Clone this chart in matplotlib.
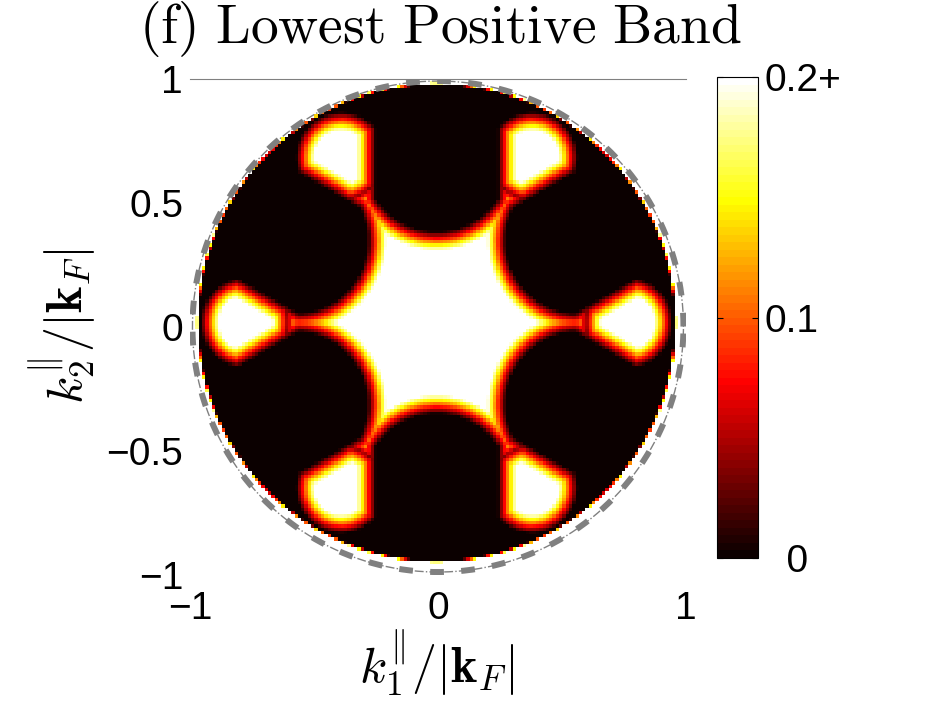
import numpy as np
import matplotlib.pyplot as plt

plt.rcParams['mathtext.fontset'] = 'cm'
plt.rcParams['font.family'] = ['Liberation Sans', 'DejaVu Sans']

# ---- geometry (units of |k_F|) ----
pocket_angles = [30, 90, 150, 210, 270, 330]   # dark (zero) pockets
pocket_dist = 0.661      # centre of each pocket's rounded inner edge
pocket_radius = 0.331
pocket_halfwidth = 0.283 # straight flanks of the pockets
lobe_angles = [0, 60, 120, 180, 240, 300]      # bright outer lobes
lobe_dist = 0.77
lobe_radius = 0.145
center_radius = 0.58     # extent of the central bright star
rim_start = 0.959        # speckled bright cells on the data edge
data_radius = 0.967
data_offset = (-0.005, 0.016)
fringe = 0.038           # half width of the red/yellow fringe
vmax = 0.2
n_grid = 150

cbar_ticks = [0, 0.1, 0.2]
cbar_labels = ['  0', '0.1', '0.2+']
x_ticks = [-1, 0, 1]
x_labels = ['\u22121', '0', '1']
y_ticks = [-1, -0.5, 0, 0.5, 1]
y_labels = ['\u22121', '\u22120.5', '0', '0.5', '1']

# ---- build the gridded band value ----
edges = np.linspace(-1, 1, n_grid + 1)
mid = 0.5 * (edges[:-1] + edges[1:])
X, Y = np.meshgrid(mid, mid)
R = np.hypot(X, Y)

d_pockets = np.full_like(X, np.inf)
for a in np.deg2rad(pocket_angles):
    along = X * np.cos(a) + Y * np.sin(a)
    perp = -X * np.sin(a) + Y * np.cos(a)
    d_disk = np.hypot(along - pocket_dist, perp) - pocket_radius
    d_slab = np.abs(perp) - pocket_halfwidth
    d_pockets = np.minimum(d_pockets, np.maximum(d_disk, d_slab))

d_lobes = np.full_like(X, -np.inf)
for a in np.deg2rad(lobe_angles):
    lx, ly = lobe_dist * np.cos(a), lobe_dist * np.sin(a)
    d_lobes = np.maximum(d_lobes, lobe_radius - np.hypot(X - lx, Y - ly))

d_allowed = np.maximum(center_radius - R, d_lobes)
d = np.minimum(d_pockets, d_allowed)
Z = 0.5 * vmax * (1 + np.clip(d / fringe, -1, 1))
Z = np.maximum(Z, 0.9 * vmax * np.clip((R - rim_start) / 0.008, 0, 1))
Z[R > data_radius] = np.nan

# ---- figure ----
fig = plt.figure(figsize=(9.34, 7.03), dpi=100)
ax = fig.add_axes([0.2034, 0.182, 0.531, 0.707])
mesh = ax.pcolormesh(edges + data_offset[0], edges + data_offset[1], Z,
                     cmap=plt.get_cmap('hot', 64), vmin=0, vmax=vmax,
                     shading='flat')

t = np.linspace(0, 2 * np.pi, 400)
ax.plot(0.99 * np.cos(t), 0.99 * np.sin(t), color='0.5', lw=1.0, ls='-.')
ax.plot(0.99 * np.cos(t), 0.99 * np.sin(t), color='0.5', lw=4.3,
        ls=(0, (2.3, 2.9)))

ax.set_xlim(-1, 1)
ax.set_ylim(-1, 1)
ax.set_aspect('equal')
ax.set_xticks(x_ticks)
ax.set_xticklabels(x_labels)
ax.set_yticks(y_ticks)
ax.set_yticklabels(y_labels)
ax.tick_params(length=0, labelsize=28)
ax.tick_params(axis='x', pad=12)
ax.tick_params(axis='y', pad=5)
for s in ['left', 'right', 'bottom']:
    ax.spines[s].set_visible(False)
ax.spines['top'].set_color('0.5')
ax.spines['top'].set_linewidth(0.8)

cax = fig.add_axes([0.7677, 0.2063, 0.0439, 0.684])
cb = fig.colorbar(mesh, cax=cax, ticks=cbar_ticks)
cb.ax.set_yticklabels(cbar_labels)
cb.ax.tick_params(labelsize=28, direction='in', length=4, left=True, right=True, pad=5)
cb.outline.set_linewidth(0.8)

fig.text(440 / 934, 1 - 29 / 703, r'$\mathrm{(f)\ Lowest\ Positive\ Band}$',
         ha='center', va='center', fontsize=40)
fig.text(437 / 934, 1 - 663 / 703, r'$k_1^{\Vert}/|\mathbf{k}_F|$',
         ha='center', va='center', fontsize=36)
fig.text(62 / 934, 1 - 326 / 703, r'$k_2^{\Vert}/|\mathbf{k}_F|$',
         ha='center', va='center', fontsize=36, rotation=90)

fig.savefig('out.png', dpi=100)
